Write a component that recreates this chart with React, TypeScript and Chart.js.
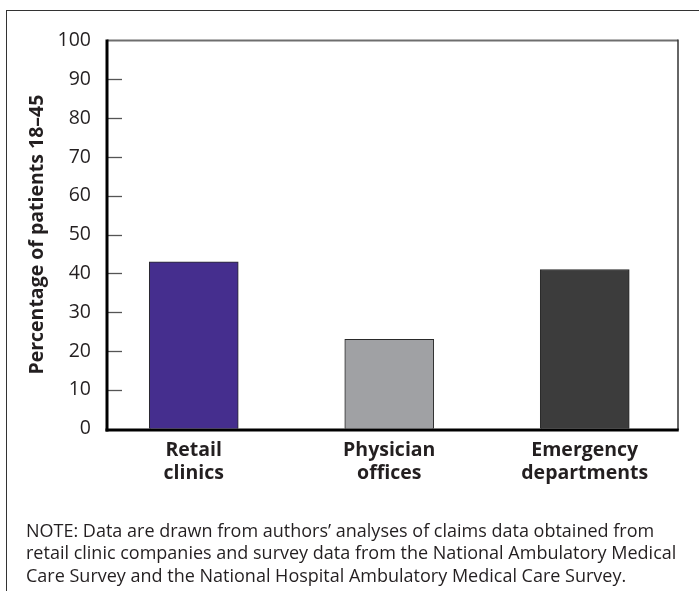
import React, { useEffect, useRef } from "react";
import { Chart, registerables } from "chart.js";

Chart.register(...registerables);

const categories: string[][] = [
  ["Retail", "clinics"],
  ["Physician", "offices"],
  ["Emergency", "departments"],
];
const values: number[] = [43, 23, 41];
const barColors: string[] = ["#452e8e", "#a0a1a4", "#3c3c3c"];
const yMin = 0;
const yMax = 100;
const yStep = 10;
const yTitle = "Percentage of patients 18\u201345";
const noteLines: string[] = [
  "NOTE: Data are drawn from authors\u2019 analyses of claims data obtained from",
  "retail clinic companies and survey data from the National Ambulatory Medical",
  "Care Survey and the National Hospital Ambulatory Medical Care Survey.",
];

const FONT = "'Open Sans', 'Noto Sans', sans-serif";
const INK = "#231f20";

const framePlugin = {
  id: "framePlugin",
  afterDatasetsDraw(chart: any) {
    const { ctx, chartArea, scales } = chart;
    const y = scales.y;
    const axisX = chartArea.left + 11;
    const rightX = chartArea.right - 4.5;
    const topY = y.getPixelForValue(yMax);
    const botY = y.getPixelForValue(yMin) + 1.3;
    ctx.save();
    // top border
    ctx.strokeStyle = "#6e6e6e";
    ctx.lineWidth = 2;
    ctx.beginPath();
    ctx.moveTo(axisX, topY);
    ctx.lineTo(rightX, topY);
    ctx.stroke();
    // right border
    ctx.strokeStyle = "#333";
    ctx.lineWidth = 1.5;
    ctx.beginPath();
    ctx.moveTo(rightX, topY - 1);
    ctx.lineTo(rightX, botY);
    ctx.stroke();
    // ticks
    ctx.strokeStyle = "#555";
    ctx.lineWidth = 1.3;
    for (let v = yMin + yStep; v < yMax; v += yStep) {
      const py = Math.round(y.getPixelForValue(v)) + 0.5;
      ctx.beginPath();
      ctx.moveTo(axisX, py);
      ctx.lineTo(axisX + 15, py);
      ctx.stroke();
    }
    // left axis
    ctx.strokeStyle = "#000";
    ctx.lineWidth = 3;
    ctx.beginPath();
    ctx.moveTo(axisX, topY - 1);
    ctx.lineTo(axisX, botY + 1.5);
    ctx.stroke();
    // bottom axis
    ctx.beginPath();
    ctx.moveTo(axisX - 1.5, botY);
    ctx.lineTo(rightX + 0.75, botY);
    ctx.stroke();
    ctx.restore();
  },
};

export default function App() {
  const ref = useRef<HTMLCanvasElement | null>(null);

  useEffect(() => {
    if (!ref.current) return;
    const chart = new Chart(ref.current, {
      type: "bar",
      data: {
        labels: categories,
        datasets: [
          {
            data: values,
            backgroundColor: barColors,
            borderColor: "#2a2a2a",
            borderWidth: 1,
            barThickness: 89,
          },
        ],
      },
      options: {
        responsive: false,
        animation: false,
        events: [],
        layout: { padding: { left: 0, right: 16.5, top: 40.5, bottom: 0 } },
        plugins: {
          legend: { display: false },
          tooltip: { enabled: false },
        },
        scales: {
          x: {
            grid: { display: false, drawTicks: false },
            border: { display: false },
            ticks: {
              color: INK,
              padding: 11,
              font: { family: FONT, size: 19.5, weight: "bold", lineHeight: 1.15 },
              maxRotation: 0,
              autoSkip: false,
            },
            afterFit(scale: any) {
              scale.height = 162.3;
            },
          },
          y: {
            min: yMin,
            max: yMax,
            grid: { display: false, drawTicks: false },
            border: { display: false },
            ticks: {
              stepSize: yStep,
              color: INK,
              padding: 5,
              font: { family: FONT, size: 19.5 },
            },
            title: {
              display: true,
              text: yTitle,
              color: INK,
              font: { family: FONT, size: 19.5, weight: "bold" },
              padding: { top: 25.5, bottom: 0 },
            },
            afterFit(scale: any) {
              scale.width = 96;
            },
          },
        },
      },
      plugins: [framePlugin],
    });
    return () => chart.destroy();
  }, []);

  return (
    <div style={{ position: "absolute", left: 0, top: 0, width: 699, height: 591, background: "#fff", overflow: "hidden" }}>
      <div
        style={{
          position: "absolute",
          left: 6,
          top: 10,
          width: 699,
          height: 600,
          borderLeft: "1px solid #333",
          borderTop: "1.5px solid #333",
        }}
      />
      <canvas ref={ref} width={699} height={591} style={{ position: "absolute", left: 0, top: 0 }} />
      <div
        style={{
          position: "absolute",
          left: 26,
          top: 518.5,
          fontFamily: FONT,
          fontSize: 18,
          lineHeight: "22.5px",
          color: INK,
          whiteSpace: "nowrap",
        }}
      >
        {noteLines.map((l, i) => (
          <div key={i}>{l}</div>
        ))}
      </div>
    </div>
  );
}
